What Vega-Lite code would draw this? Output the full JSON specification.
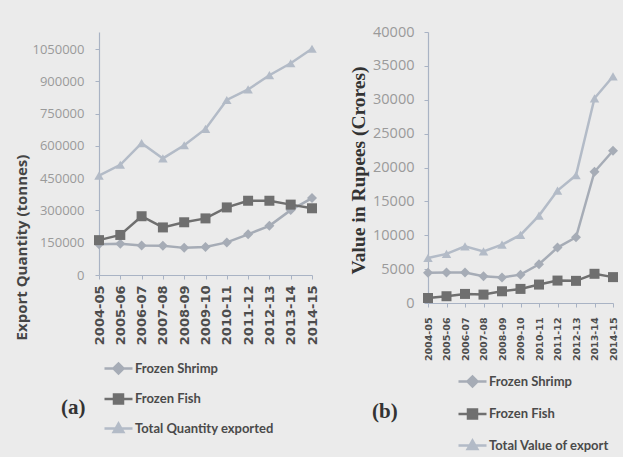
{
  "$schema": "https://vega.github.io/schema/vega-lite/v6.json",
  "background": "#ebebeb",
  "padding": {"left": 14, "top": 24, "right": 10, "bottom": 16},
  "datasets": {
    "qty": [
      {"year": "2004-05", "series": "Frozen Shrimp", "value": 143170},
      {"year": "2005-06", "series": "Frozen Shrimp", "value": 145180},
      {"year": "2006-07", "series": "Frozen Shrimp", "value": 137397},
      {"year": "2007-08", "series": "Frozen Shrimp", "value": 136223},
      {"year": "2008-09", "series": "Frozen Shrimp", "value": 126042},
      {"year": "2009-10", "series": "Frozen Shrimp", "value": 130553},
      {"year": "2010-11", "series": "Frozen Shrimp", "value": 151465},
      {"year": "2011-12", "series": "Frozen Shrimp", "value": 189125},
      {"year": "2012-13", "series": "Frozen Shrimp", "value": 228620},
      {"year": "2013-14", "series": "Frozen Shrimp", "value": 301435},
      {"year": "2014-15", "series": "Frozen Shrimp", "value": 357505},
      {"year": "2004-05", "series": "Frozen Fish", "value": 162000},
      {"year": "2005-06", "series": "Frozen Fish", "value": 186000},
      {"year": "2006-07", "series": "Frozen Fish", "value": 273000},
      {"year": "2007-08", "series": "Frozen Fish", "value": 221000},
      {"year": "2008-09", "series": "Frozen Fish", "value": 245000},
      {"year": "2009-10", "series": "Frozen Fish", "value": 263000},
      {"year": "2010-11", "series": "Frozen Fish", "value": 314000},
      {"year": "2011-12", "series": "Frozen Fish", "value": 345000},
      {"year": "2012-13", "series": "Frozen Fish", "value": 345000},
      {"year": "2013-14", "series": "Frozen Fish", "value": 327000},
      {"year": "2014-15", "series": "Frozen Fish", "value": 310000},
      {"year": "2004-05", "series": "Total Quantity exported", "value": 461329},
      {"year": "2005-06", "series": "Total Quantity exported", "value": 512164},
      {"year": "2006-07", "series": "Total Quantity exported", "value": 612641},
      {"year": "2007-08", "series": "Total Quantity exported", "value": 541701},
      {"year": "2008-09", "series": "Total Quantity exported", "value": 602835},
      {"year": "2009-10", "series": "Total Quantity exported", "value": 678436},
      {"year": "2010-11", "series": "Total Quantity exported", "value": 813091},
      {"year": "2011-12", "series": "Total Quantity exported", "value": 862021},
      {"year": "2012-13", "series": "Total Quantity exported", "value": 928215},
      {"year": "2013-14", "series": "Total Quantity exported", "value": 983756},
      {"year": "2014-15", "series": "Total Quantity exported", "value": 1051243}
    ],
    "val": [
      {"year": "2004-05", "series": "Frozen Shrimp", "value": 4459},
      {"year": "2005-06", "series": "Frozen Shrimp", "value": 4492},
      {"year": "2006-07", "series": "Frozen Shrimp", "value": 4507},
      {"year": "2007-08", "series": "Frozen Shrimp", "value": 3941},
      {"year": "2008-09", "series": "Frozen Shrimp", "value": 3779},
      {"year": "2009-10", "series": "Frozen Shrimp", "value": 4182},
      {"year": "2010-11", "series": "Frozen Shrimp", "value": 5718},
      {"year": "2011-12", "series": "Frozen Shrimp", "value": 8175},
      {"year": "2012-13", "series": "Frozen Shrimp", "value": 9706},
      {"year": "2013-14", "series": "Frozen Shrimp", "value": 19368},
      {"year": "2014-15", "series": "Frozen Shrimp", "value": 22468},
      {"year": "2004-05", "series": "Frozen Fish", "value": 740},
      {"year": "2005-06", "series": "Frozen Fish", "value": 1000},
      {"year": "2006-07", "series": "Frozen Fish", "value": 1340},
      {"year": "2007-08", "series": "Frozen Fish", "value": 1240},
      {"year": "2008-09", "series": "Frozen Fish", "value": 1730},
      {"year": "2009-10", "series": "Frozen Fish", "value": 2080},
      {"year": "2010-11", "series": "Frozen Fish", "value": 2720},
      {"year": "2011-12", "series": "Frozen Fish", "value": 3310},
      {"year": "2012-13", "series": "Frozen Fish", "value": 3270},
      {"year": "2013-14", "series": "Frozen Fish", "value": 4310},
      {"year": "2014-15", "series": "Frozen Fish", "value": 3820},
      {"year": "2004-05", "series": "Total Value of export", "value": 6647},
      {"year": "2005-06", "series": "Total Value of export", "value": 7246},
      {"year": "2006-07", "series": "Total Value of export", "value": 8364},
      {"year": "2007-08", "series": "Total Value of export", "value": 7621},
      {"year": "2008-09", "series": "Total Value of export", "value": 8608},
      {"year": "2009-10", "series": "Total Value of export", "value": 10048},
      {"year": "2010-11", "series": "Total Value of export", "value": 12901},
      {"year": "2011-12", "series": "Total Value of export", "value": 16597},
      {"year": "2012-13", "series": "Total Value of export", "value": 18856},
      {"year": "2013-14", "series": "Total Value of export", "value": 30213},
      {"year": "2014-15", "series": "Total Value of export", "value": 33441}
    ]
  },
  "spacing": 116,
  "bounds": "flush",
  "hconcat": [
    {
      "width": 213,
      "height": 243,
      "data": {"name": "qty"},
      "encoding": {
        "x": {
          "field": "year", "type": "ordinal",
          "scale": {"type": "point", "padding": 0},
          "axis": {"title": null, "labelAngle": -90, "labelFont": "DejaVu Sans", "labelFontWeight": "bold", "labelFontSize": 13, "labelColor": "#4d4d4d", "labelPadding": 6, "tickSize": 4}
        },
        "y": {
          "field": "value", "type": "quantitative",
          "scale": {"domain": [0, 1129000], "nice": false},
          "axis": {"values": [0, 150000, 300000, 450000, 600000, 750000, 900000, 1050000], "format": "d", "title": "Export Quantity (tonnes)", "titleFont": "Open Sans", "titleFontWeight": "bold", "titleFontSize": 15, "titleColor": "#454545", "titleY": 215, "titlePadding": 2, "labelFont": "Open Sans", "labelFontSize": 13, "labelColor": "#9a9a9a", "labelPadding": 11, "tickSize": 4, "grid": false}
        },
        "color": {
          "field": "series", "type": "nominal",
          "scale": {"domain": ["Frozen Shrimp", "Frozen Fish", "Total Quantity exported"], "range": ["#a6acb6", "#6f6f6f", "#b3bbc7"]},
          "legend": {
            "orient": "none", "legendX": -38, "legendY": 325, "direction": "vertical",
            "title": "(a)", "titleOrient": "left", "titleAnchor": "middle", "titleBaseline": "top", "titlePadding": 21,
            "titleFont": "Liberation Serif", "titleFontSize": 21, "titleFontWeight": "bold", "titleColor": "#333333",
            "labelFont": "Lato", "labelFontWeight": "bold", "labelFontSize": 13, "labelColor": "#4a4a4a", "labelOffset": 5,
            "symbolSize": 400, "rowPadding": 8.5,
            "encode": {"symbols": {"update": {
              "shape": {"signal": "datum.value === 'Frozen Shrimp' ? 'M-1.4,0H1.4M-0.5,0L0,-0.5L0.5,0L0,0.5Z' : datum.value === 'Frozen Fish' ? 'M-1.4,0H1.4M-0.45,-0.45H0.45V0.45H-0.45Z' : 'M-1.4,0H1.4M0,-0.5L0.48,0.35H-0.48Z'"},
              "fill": {"signal": "datum.value === 'Frozen Shrimp' ? '#a6acb6' : datum.value === 'Frozen Fish' ? '#6f6f6f' : '#b3bbc7'"},
              "stroke": {"signal": "datum.value === 'Frozen Shrimp' ? '#a6acb6' : datum.value === 'Frozen Fish' ? '#6f6f6f' : '#b3bbc7'"},
              "strokeWidth": {"value": 2.5},
              "opacity": {"value": 1}
            }}}
          }
        }
      },
      "layer": [
        {"mark": {"type": "line", "strokeWidth": 2.5}},
        {"transform": [{"filter": "datum.series === 'Frozen Shrimp'"}], "mark": {"type": "point", "shape": "diamond", "filled": true, "size": 100, "opacity": 1}},
        {"transform": [{"filter": "datum.series === 'Frozen Fish'"}], "mark": {"type": "point", "shape": "square", "filled": true, "size": 100, "opacity": 1}},
        {"transform": [{"filter": "datum.series === 'Total Quantity exported'"}], "mark": {"type": "point", "shape": "triangle-up", "filled": true, "size": 90, "opacity": 1}}
      ]
    },
    {
      "width": 185,
      "height": 271,
      "data": {"name": "val"},
      "encoding": {
        "x": {
          "field": "year", "type": "ordinal",
          "scale": {"type": "point", "padding": 0},
          "axis": {"title": null, "labelAngle": -90, "labelFont": "DejaVu Sans", "labelFontWeight": "bold", "labelFontSize": 9.5, "labelColor": "#4d4d4d", "labelPadding": 10, "tickSize": 4}
        },
        "y": {
          "field": "value", "type": "quantitative",
          "scale": {"domain": [0, 40000], "nice": false},
          "axis": {"values": [0, 5000, 10000, 15000, 20000, 25000, 30000, 35000, 40000], "format": "d", "title": "Value in Rupees (Crores)", "titleFont": "Liberation Serif", "titleFontWeight": "bold", "titleFontSize": 19.5, "titleColor": "#333333", "titleY": 138, "titlePadding": 4, "labelFont": "Open Sans", "labelFontSize": 14.5, "labelColor": "#9a9a9a", "labelPadding": 10, "tickSize": 4, "grid": false}
        },
        "color": {
          "field": "series", "type": "nominal",
          "scale": {"domain": ["Frozen Shrimp", "Frozen Fish", "Total Value of export"], "range": ["#a6acb6", "#6f6f6f", "#b3bbc7"]},
          "legend": {
            "orient": "none", "legendX": -56, "legendY": 338, "direction": "vertical",
            "title": "(b)", "titleOrient": "left", "titleAnchor": "middle", "titleBaseline": "middle", "titlePadding": 63,
            "titleFont": "Liberation Serif", "titleFontSize": 21, "titleFontWeight": "bold", "titleColor": "#333333",
            "labelFont": "Lato", "labelFontWeight": "bold", "labelFontSize": 13, "labelColor": "#4a4a4a", "labelOffset": 5,
            "symbolSize": 400, "rowPadding": 10.5,
            "encode": {"symbols": {"update": {
              "shape": {"signal": "datum.value === 'Frozen Shrimp' ? 'M-1.4,0H1.4M-0.5,0L0,-0.5L0.5,0L0,0.5Z' : datum.value === 'Frozen Fish' ? 'M-1.4,0H1.4M-0.45,-0.45H0.45V0.45H-0.45Z' : 'M-1.4,0H1.4M0,-0.5L0.48,0.35H-0.48Z'"},
              "fill": {"signal": "datum.value === 'Frozen Shrimp' ? '#a6acb6' : datum.value === 'Frozen Fish' ? '#6f6f6f' : '#b3bbc7'"},
              "stroke": {"signal": "datum.value === 'Frozen Shrimp' ? '#a6acb6' : datum.value === 'Frozen Fish' ? '#6f6f6f' : '#b3bbc7'"},
              "strokeWidth": {"value": 2.5},
              "opacity": {"value": 1}
            }}}
          }
        }
      },
      "layer": [
        {"mark": {"type": "line", "strokeWidth": 2.5}},
        {"transform": [{"filter": "datum.series === 'Frozen Shrimp'"}], "mark": {"type": "point", "shape": "diamond", "filled": true, "size": 100, "opacity": 1}},
        {"transform": [{"filter": "datum.series === 'Frozen Fish'"}], "mark": {"type": "point", "shape": "square", "filled": true, "size": 100, "opacity": 1}},
        {"transform": [{"filter": "datum.series === 'Total Value of export'"}], "mark": {"type": "point", "shape": "triangle-up", "filled": true, "size": 90, "opacity": 1}}
      ]
    }
  ],
  "resolve": {
    "scale": {"x": "independent", "y": "independent", "color": "independent"},
    "legend": {"color": "independent"}
  },
  "config": {
    "view": {"stroke": null},
    "axis": {"domainColor": "#a9b3c4", "tickColor": "#a9b3c4", "domainWidth": 1.2, "grid": false}
  }
}
